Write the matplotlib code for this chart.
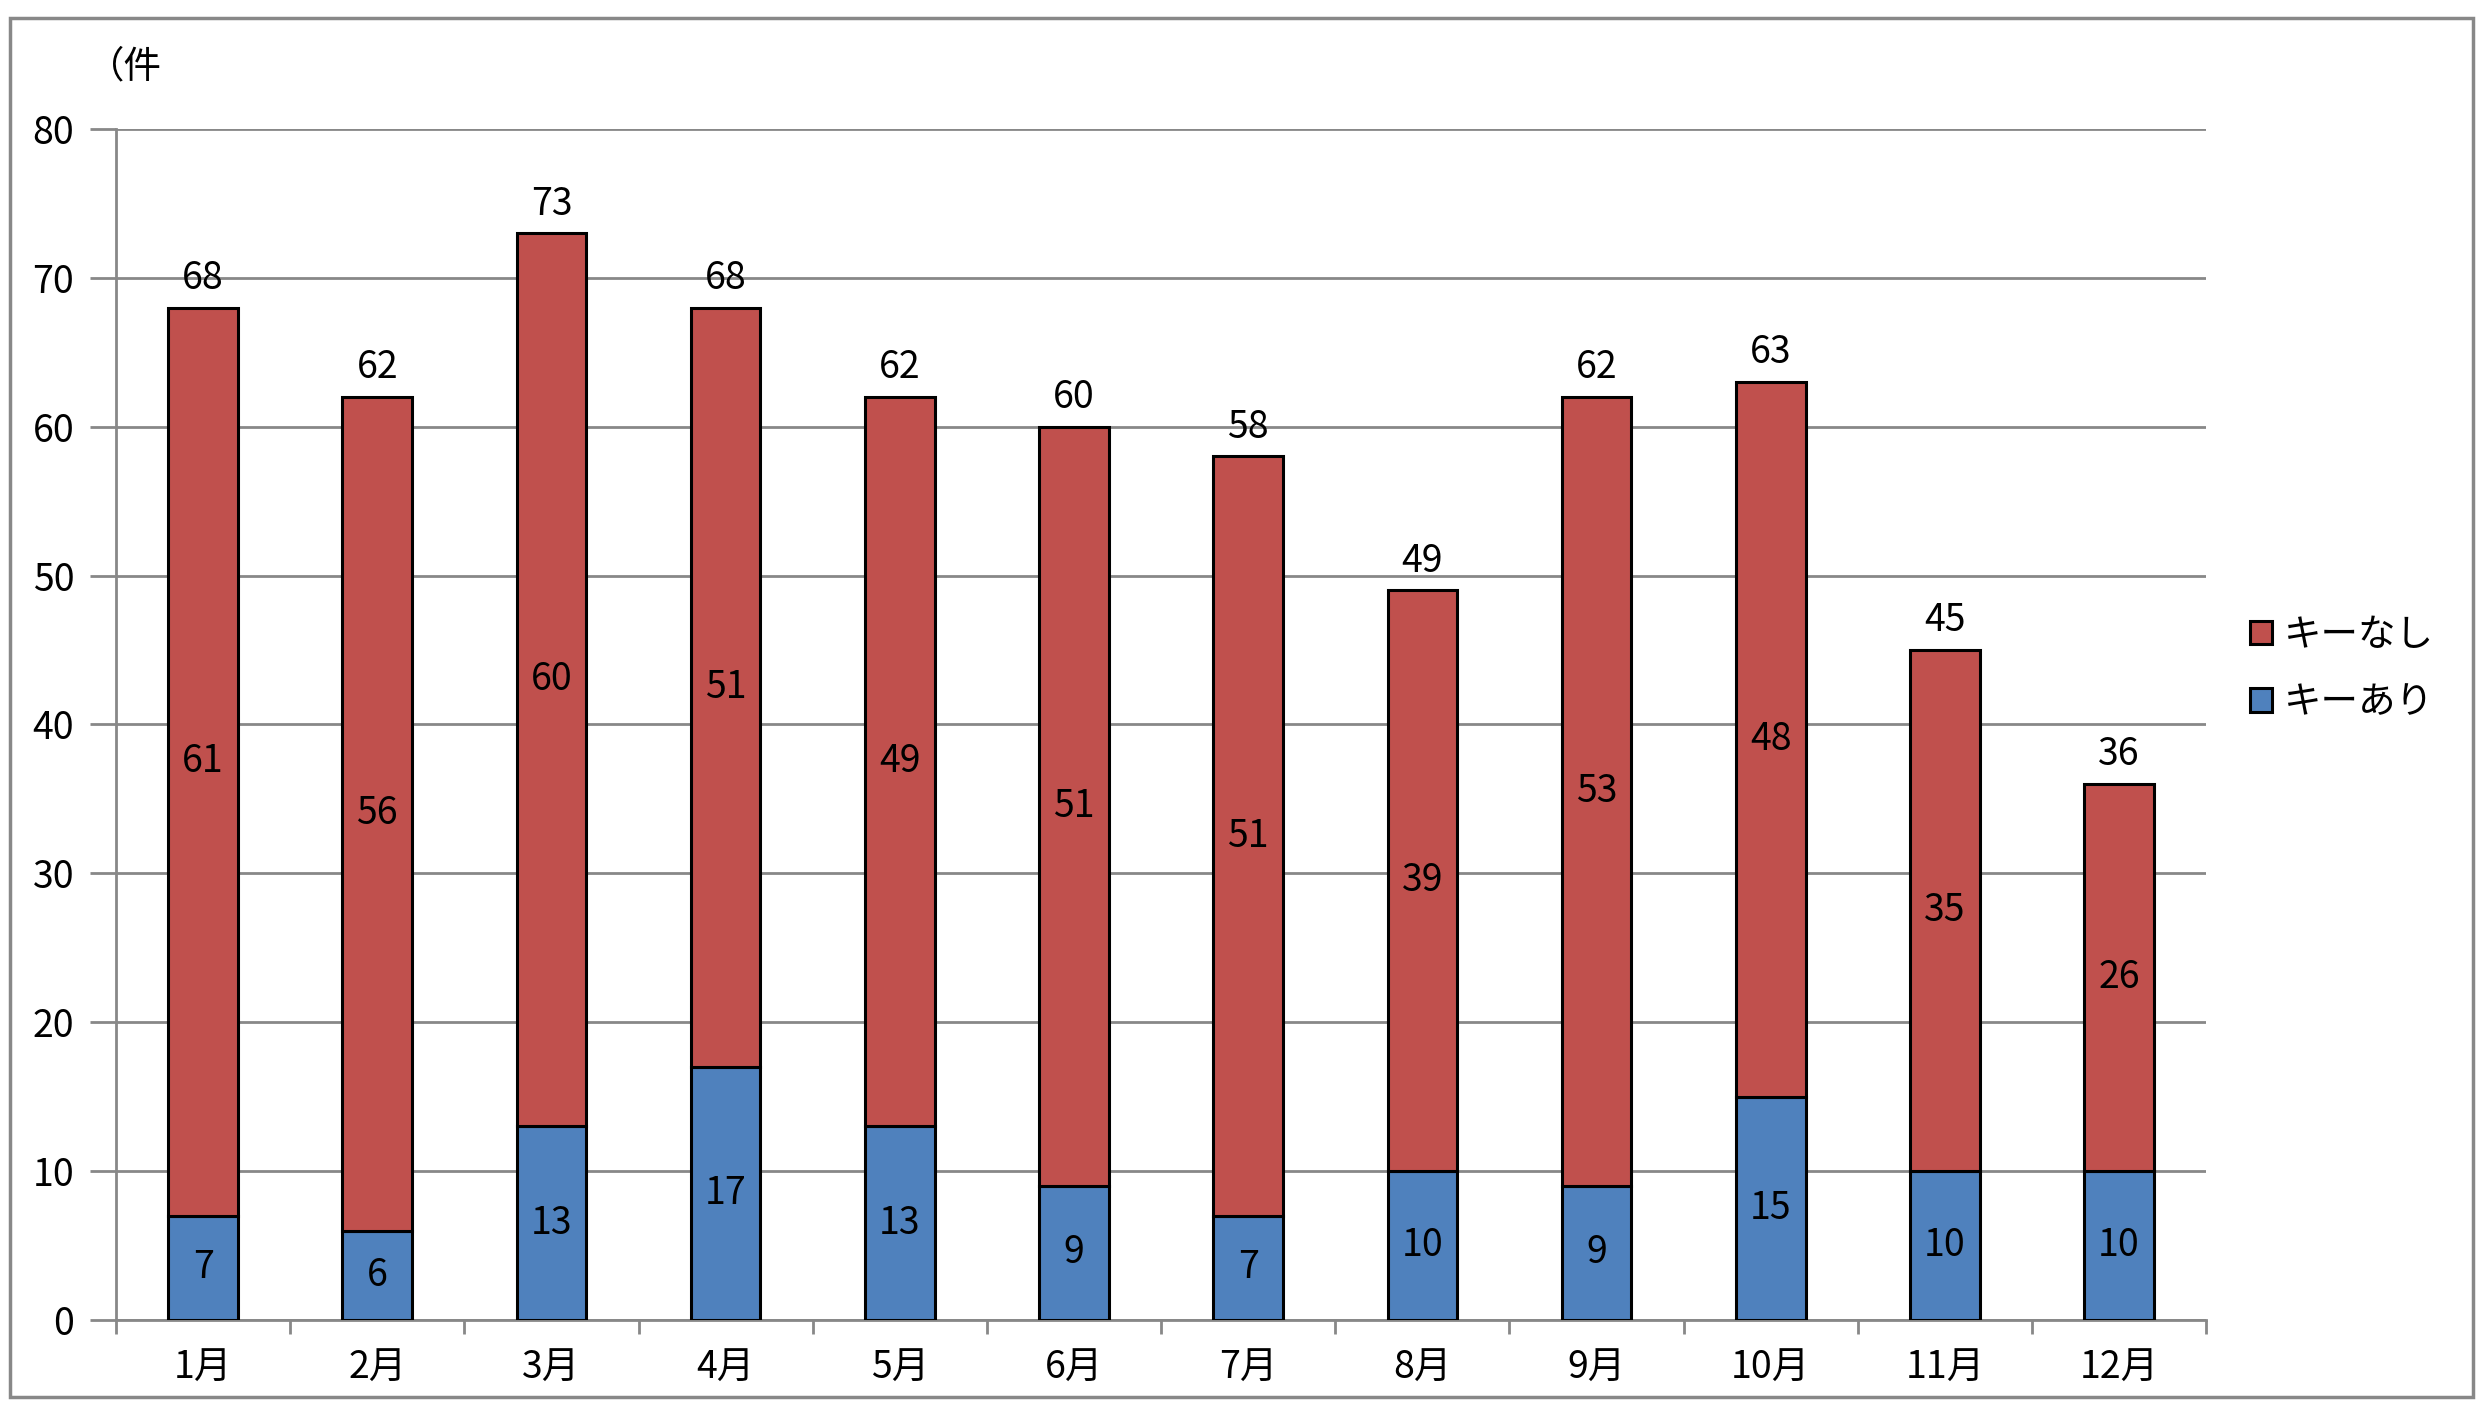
import matplotlib
matplotlib.use('Agg')
import matplotlib.pyplot as plt
from matplotlib.patches import Rectangle
import numpy as np

plt.rcParams['font.family'] = ['Noto Sans CJK JP', 'DejaVu Sans']

# データ
months = ['1月', '2月', '3月', '4月', '5月', '6月', '7月', '8月', '9月', '10月', '11月', '12月']
key_ari = [7, 6, 13, 17, 13, 9, 7, 10, 9, 15, 10, 10]
key_nashi = [61, 56, 60, 51, 49, 51, 51, 39, 53, 48, 35, 26]
totals = [68, 62, 73, 68, 62, 60, 58, 49, 62, 63, 45, 36]

red = '#C0504D'
blue = '#4F81BD'
grid_col = '#888888'
fs = 27

fig = plt.figure(figsize=(24.9, 14.14), dpi=100)
ax = fig.add_axes([0.0466, 0.0665, 0.8394, 0.8423])

x = np.arange(len(months))
w = 0.4
b1 = ax.bar(x, key_ari, w, color=blue, edgecolor='black', linewidth=2.2, label='キーあり', zorder=3)
b2 = ax.bar(x, key_nashi, w, bottom=key_ari, color=red, edgecolor='black', linewidth=2.2, label='キーなし', zorder=3)

# ラベル
for i in range(len(months)):
    ax.text(x[i], key_ari[i] / 2, str(key_ari[i]), ha='center', va='center', fontsize=fs, zorder=4)
    ax.text(x[i], key_ari[i] + key_nashi[i] / 2, str(key_nashi[i]), ha='center', va='center', fontsize=fs, zorder=4)
    ax.annotate(str(totals[i]), (x[i], totals[i]), xytext=(0, 21), textcoords='offset points',
                ha='center', va='center', fontsize=fs)

ax.set_xlim(-0.5, len(months) - 0.5)
ax.set_ylim(0, 80)
ax.set_yticks(range(0, 81, 10))
ax.yaxis.grid(True, color=grid_col, linewidth=2, zorder=0)
ax.set_axisbelow(True)
ax.tick_params(axis='y', length=19, width=2, color=grid_col, labelsize=fs, pad=11)

ax.set_xticks(x)
ax.set_xticklabels(months)
ax.set_xticks(np.arange(-0.5, len(months), 1), minor=True)
ax.tick_params(axis='x', which='major', length=0, labelsize=fs, pad=21)
ax.tick_params(axis='x', which='minor', length=10, width=2, color=grid_col)

for s in ['top', 'right']:
    ax.spines[s].set_visible(False)
for s in ['left', 'bottom']:
    ax.spines[s].set_color(grid_col)
    ax.spines[s].set_linewidth(2)

fig.text(0.035, 0.953, '（件', fontsize=fs, ha='left', va='center')

ax.legend(handles=[b2, b1], loc='center left', bbox_to_anchor=(0.89, 0.527),
          bbox_transform=fig.transFigure, frameon=False, fontsize=fs,
          handlelength=0.6, handleheight=0.6, handletextpad=0.3, labelspacing=0.75)

fig.patches.append(Rectangle((0.004, 0.012), 0.989, 0.975, transform=fig.transFigure,
                             fill=False, edgecolor='#888888', linewidth=2.5))

fig.savefig('out.png', dpi=100)
